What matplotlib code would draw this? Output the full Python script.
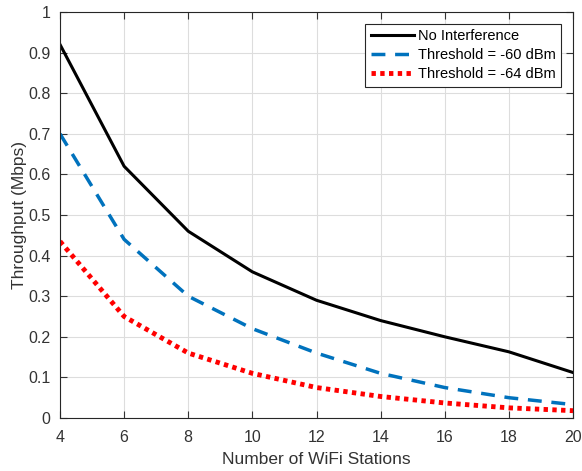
import matplotlib
matplotlib.use("Agg")
import matplotlib.pyplot as plt

stations = [4, 6, 8, 10, 12, 14, 16, 18, 20]
no_interf = [0.92, 0.62, 0.46, 0.36, 0.29, 0.24, 0.20, 0.163, 0.112]
thr60 = [0.70, 0.44, 0.30, 0.22, 0.16, 0.11, 0.075, 0.05, 0.033]
thr64 = [0.435, 0.25, 0.16, 0.11, 0.075, 0.053, 0.037, 0.025, 0.018]
labels = ["No Interference", "Threshold = -60 dBm", "Threshold = -64 dBm"]

plt.rcParams['font.family'] = ['Liberation Sans', 'DejaVu Sans']
fig = plt.figure(figsize=(5.82, 4.71), dpi=100)
ax = fig.add_axes([60/582, 1-418/471, (573-60)/582, (418-12)/471])

ax.plot(stations, no_interf, color='black', lw=2.2, label=labels[0])
ax.plot(stations, thr60, color='#0072BD', lw=2.5, ls=(0, (4, 2.8)), label=labels[1])
ax.plot(stations, thr64, color='#FF0000', lw=3.5, ls=(0, (0.9, 0.9)), label=labels[2])

ax.set_xlim(4, 20)
ax.set_ylim(0, 1)
ax.set_xticks(range(4, 21, 2))
ax.set_yticks([i/10 for i in range(11)])
ax.set_yticklabels(['0'] + [f'{i/10:.1f}' for i in range(1, 10)] + ['1'])
ax.grid(True, color='#dddddd', lw=0.8)
ax.set_axisbelow(True)
ax.tick_params(direction='in', top=True, right=True, labelsize=11.5, colors='#333333', length=5)
ax.tick_params(axis='x', pad=9)
ax.tick_params(axis='y', pad=7)
for s in ax.spines.values():
    s.set_color('#262626')
    s.set_linewidth(0.8)
ax.set_xlabel('Number of WiFi Stations', fontsize=12.5, color='#333333', labelpad=5)
ax.set_ylabel('Throughput (Mbps)', fontsize=12.5, color='#333333', labelpad=1)

leg = ax.legend(loc='upper right', bbox_to_anchor=(0.9765, 0.97), fontsize=10.5, fancybox=False,
                edgecolor='#262626', framealpha=1, handlelength=3.0, handletextpad=0.25,
                borderpad=0.35, labelspacing=0.35, borderaxespad=0)
leg.get_frame().set_linewidth(0.8)

fig.savefig('out.png', dpi=100)
